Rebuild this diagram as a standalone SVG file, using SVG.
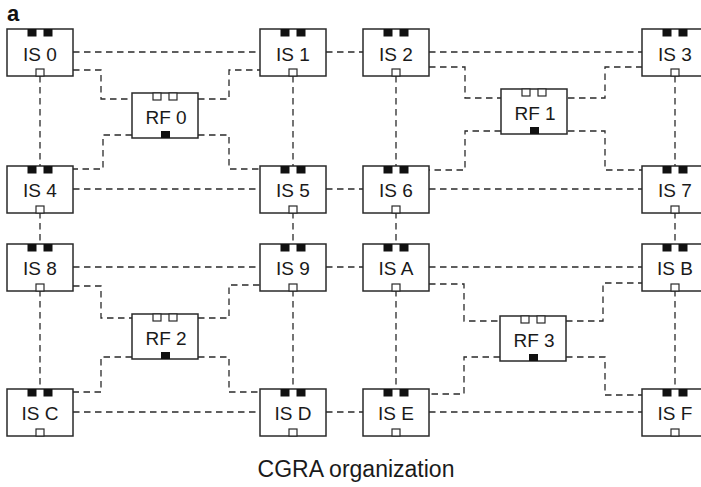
<svg xmlns="http://www.w3.org/2000/svg" width="701" height="487" viewBox="0 0 701 487">
<style>
.box{fill:#fff;stroke:#2a2a2a;stroke-width:1.5}
.blk{fill:#111}
.wht{fill:#fff;stroke:#2a2a2a;stroke-width:1.2}
.lbl{font-family:"Liberation Sans",Arial,sans-serif;font-size:19px;fill:#1a1a1a;text-anchor:middle}
.con{fill:none;stroke:#2a2a2a;stroke-width:1.3;stroke-dasharray:6.5,4.5}
</style>
<rect width="701" height="487" fill="#fff"/>
<text x="7" y="21" style="font-family:'Liberation Sans',Arial,sans-serif;font-size:22px;font-weight:bold;fill:#111">a</text>
<g id="connectors">
<path class="con" d="M73,52H260M326,52H363M429,52H642"/>
<path class="con" d="M73,189H260M326,189H363M429,189H642"/>
<path class="con" d="M73,267H260M326,267H363M429,267H642"/>
<path class="con" d="M73,412H260M326,412H363M429,412H642"/>
<path class="con" d="M40,76V166M293,76V166M396,76V166M675,76V166"/>
<path class="con" d="M40,212V244M293,212V244M396,212V244M675,212V244"/>
<path class="con" d="M40,290V389M293,290V389M396,290V389M675,290V389"/>
<path class="con" d="M73,70H101V99H132M132,135H103V169H73M198,99H229V70H260M198,135H229V169H260"/>
<path class="con" d="M429,67H465V98H501M501,131H465V170H429M568,98H605V67H642M568,131H605V170H642"/>
<path class="con" d="M73,286H101V318H132M132,357H101V392H73M198,318H229V285H260M198,357H229V392H260"/>
<path class="con" d="M429,284H464V321H500M500,357H464V394H429M566,321H603V283H642M566,357H605V395H642"/>
</g>
<defs>
<g id="is">
<rect class="box" x="-33" y="0" width="66" height="47"/>
<rect class="blk" x="-12.5" y="0" width="9" height="7.5"/>
<rect class="blk" x="3.5" y="0" width="9" height="7.5"/>
<rect class="wht" x="-4" y="40" width="8" height="7"/>
</g>
<g id="rf">
<rect class="box" x="-33" y="0" width="66" height="45"/>
<rect class="wht" x="-12" y="0" width="8" height="7"/>
<rect class="wht" x="4" y="0" width="8" height="7"/>
<rect class="blk" x="-4" y="38" width="9" height="7"/>
</g>
</defs>
<g id="IS0"><use href="#is" x="40" y="29"/><text class="lbl" x="40" y="61">IS 0</text></g>
<g id="IS1"><use href="#is" x="293" y="29"/><text class="lbl" x="293" y="61">IS 1</text></g>
<g id="IS2"><use href="#is" x="396" y="29"/><text class="lbl" x="396" y="61">IS 2</text></g>
<g id="IS3"><use href="#is" x="675" y="29"/><text class="lbl" x="675" y="61">IS 3</text></g>
<g id="IS4"><use href="#is" x="40" y="166"/><text class="lbl" x="40" y="197">IS 4</text></g>
<g id="IS5"><use href="#is" x="293" y="166"/><text class="lbl" x="293" y="197">IS 5</text></g>
<g id="IS6"><use href="#is" x="396" y="166"/><text class="lbl" x="396" y="197">IS 6</text></g>
<g id="IS7"><use href="#is" x="675" y="166"/><text class="lbl" x="675" y="197">IS 7</text></g>
<g id="IS8"><use href="#is" x="40" y="244"/><text class="lbl" x="40" y="275">IS 8</text></g>
<g id="IS9"><use href="#is" x="293" y="244"/><text class="lbl" x="293" y="275">IS 9</text></g>
<g id="ISA"><use href="#is" x="396" y="244"/><text class="lbl" x="396" y="275">IS A</text></g>
<g id="ISB"><use href="#is" x="675" y="244"/><text class="lbl" x="675" y="275">IS B</text></g>
<g id="ISC"><use href="#is" x="40" y="389"/><text class="lbl" x="40" y="420">IS C</text></g>
<g id="ISD"><use href="#is" x="293" y="389"/><text class="lbl" x="293" y="420">IS D</text></g>
<g id="ISE"><use href="#is" x="396" y="389"/><text class="lbl" x="396" y="420">IS E</text></g>
<g id="ISF"><use href="#is" x="675" y="389"/><text class="lbl" x="675" y="420">IS F</text></g>
<g id="RF0"><use href="#rf" x="165" y="93"/><text class="lbl" x="166" y="124">RF 0</text></g>
<g id="RF1"><use href="#rf" x="534" y="89"/><text class="lbl" x="535" y="120">RF 1</text></g>
<g id="RF2"><use href="#rf" x="165" y="314"/><text class="lbl" x="166" y="345">RF 2</text></g>
<g id="RF3"><use href="#rf" x="533" y="316"/><text class="lbl" x="534" y="347">RF 3</text></g>
<text x="356" y="477" style="font-family:'Liberation Sans',Arial,sans-serif;font-size:23px;fill:#1a1a1a;text-anchor:middle">CGRA organization</text>
</svg>
